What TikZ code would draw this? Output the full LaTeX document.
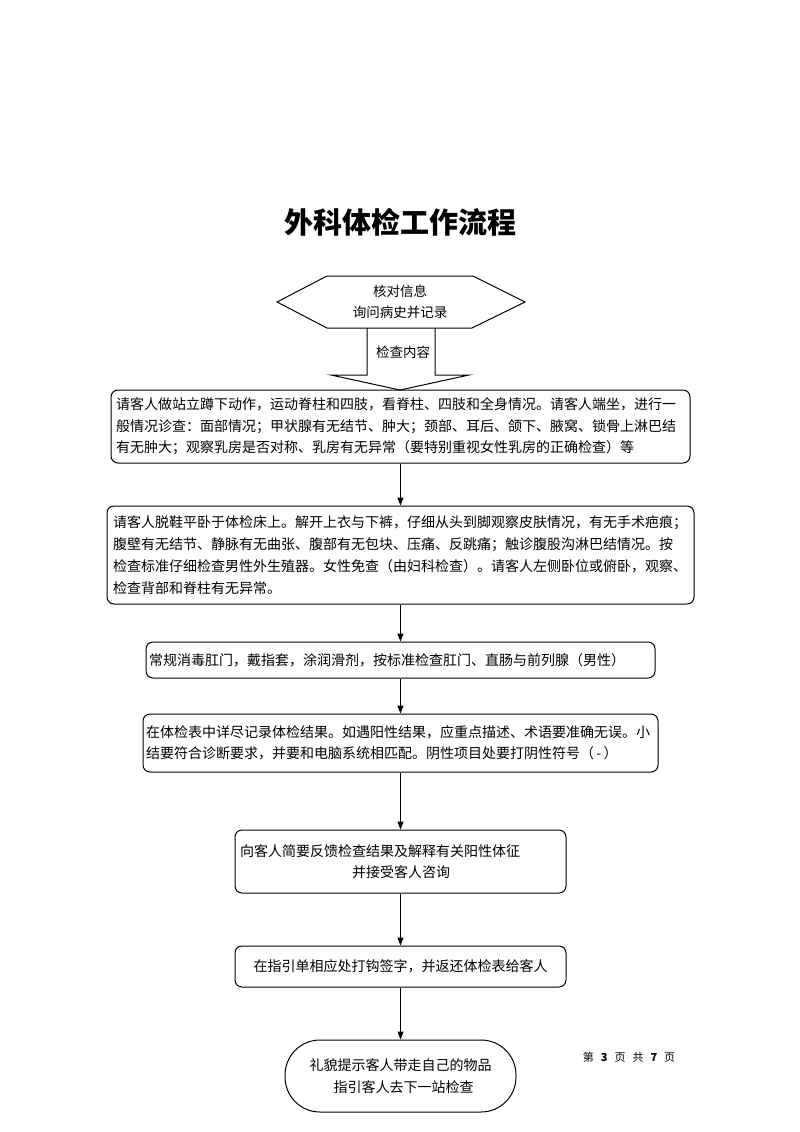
\documentclass[tikz,border=0pt]{standalone}
\usepackage{fontspec}
\setmainfont{Noto Sans CJK SC}
\usetikzlibrary{arrows.meta}
\begin{document}
\begin{tikzpicture}[x=1pt,y=-1pt,
  box/.style={draw,line width=1pt,rounded corners=7pt,inner xsep=5pt,inner ysep=0pt,font=\fontsize{14}{21.5}\selectfont},
  flow/.style={line width=1pt,-{Triangle[length=8pt,width=6pt]}},
  lbl/.style={font=\fontsize{13.5}{21}\selectfont,align=center,inner sep=0pt},
]
\useasboundingbox (0,0) rectangle (800,1132);
\node[font=\fontsize{29}{32}\selectfont\bfseries] (title) at (400,222) {外科体检工作流程};
% hexagon
\coordinate (hL) at (277,302);
\coordinate (hTL) at (327,276);
\coordinate (hTR) at (473,276);
\coordinate (hR) at (525,302);
\coordinate (hBR) at (472,328);
\coordinate (hBL) at (327,328);
\draw[line width=1pt] (hL) -- (hTL) -- (hTR) -- (hR) -- (hBR) -- (hBL) -- cycle;
\node[lbl] (hex) at (400,302) {核对信息\\询问病史并记录};
% block arrow
\coordinate (a1) at (367,328);
\coordinate (a2) at (367,375);
\coordinate (a3) at (331,375);
\coordinate (a4) at (400,390);
\coordinate (a5) at (469,375);
\coordinate (a6) at (435,375);
\coordinate (a7) at (435,328);
\draw[line width=1pt] (a1) -- (a2) -- (a3) -- (a4) -- (a5) -- (a6) -- (a7);
\node[lbl] (chk) at (403,352) {检查内容};
% boxes
\node[box,minimum height=73pt,text width=569pt,align=left] (b1) at (400.5,426.5)
 {请客人做站立蹲下动作，运动脊柱和四肢，看脊柱、四肢和全身情况。请客人端坐，进行一\\般情况诊查：面部情况；甲状腺有无结节、肿大；颈部、耳后、颌下、腋窝、锁骨上淋巴结\\有无肿大；观察乳房是否对称、乳房有无异常（要特别重视女性乳房的正确检查）等};
\node[box,minimum height=98pt,inner xsep=6pt,text width=575pt,align=left,font=\fontsize{14}{22}\selectfont] (b2) at (400.5,555)
 {请客人脱鞋平卧于体检床上。解开上衣与下裤，仔细从头到脚观察皮肤情况，有无手术疤痕；\\腹壁有无结节、静脉有无曲张、腹部有无包块、压痛、反跳痛；触诊腹股沟淋巴结情况。按\\检查标准仔细检查男性外生殖器。女性免查（由妇科检查）。请客人左侧卧位或俯卧，观察、\\检查背部和脊柱有无异常。};
\node[box,minimum height=36pt,inner xsep=3pt,text width=503pt,align=left] (b3) at (400.5,660)
 {常规消毒肛门，戴指套，涂润滑剂，按标准检查肛门、直肠与前列腺（男性）};
\node[box,minimum height=58pt,inner xsep=3pt,text width=509pt,align=left] (b4) at (400.5,743)
 {在体检表中详尽记录体检结果。如遇阳性结果，应重点描述、术语要准确无误。小\\结要符合诊断要求，并要和电脑系统相匹配。阴性项目处要打阴性符号（\,-\,）};
\node[box,minimum height=63pt,text width=321pt,align=left] (b5) at (400.5,861.5)
 {\raisebox{4pt}{\parbox{321pt}{向客人简要反馈检查结果及解释有关阳性体征\\\hspace*{112pt}并接受客人咨询}}};
\node[box,minimum height=41pt,minimum width=331pt,align=center] (b6) at (400.5,966.5)
 {在指引单相应处打钩签字，并返还体检表给客人};
\node[box,rounded corners=35pt,minimum height=72pt,minimum width=231pt,align=center] (b7) at (400.5,1076)
 {礼貌提示客人带走自己的物品\\\hspace*{6pt}指引客人去下一站检查};
% connectors
\draw[flow] (b1.south) -- (b2.north);
\draw[flow] (b2.south) -- (b3.north);
\draw[flow] (b3.south) -- (b4.north);
\draw[flow] (b4.south) -- (b5.north);
\draw[flow] (b5.south) -- (b6.north);
\draw[flow] (b6.south) -- (b7.north);
% footer
\node[font=\fontsize{11}{13}\selectfont] (pg) at (629,1057) {第\hspace{7pt}\textbf{3}\hspace{7pt}页\hspace{7pt}共\hspace{7pt}\textbf{7}\hspace{7pt}页};
\end{tikzpicture}
\end{document}
